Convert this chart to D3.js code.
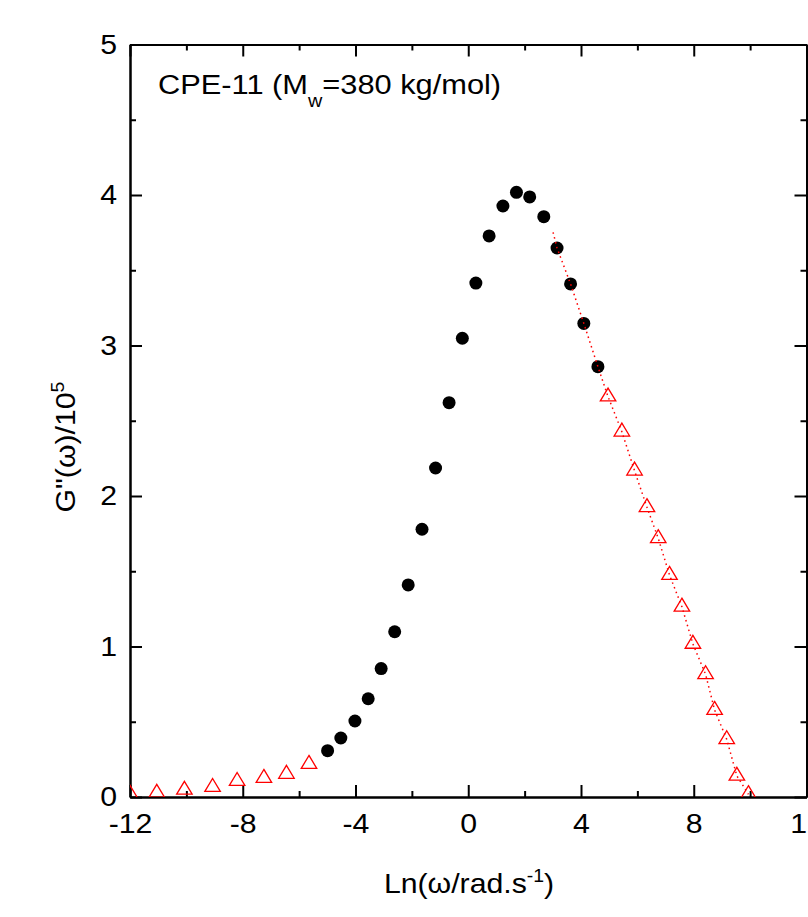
<!DOCTYPE html>
<html>
<head>
<meta charset="utf-8">
<script src="https://cdn.jsdelivr.net/npm/d3@7"></script>
<style>
  html, body { margin: 0; padding: 0; background: #fff; }
  svg { display: block; }
  text { font-family: "Liberation Sans", Arial, sans-serif; fill: #000; }
</style>
</head>
<body>
<svg id="chart" width="808" height="917"></svg>
<script>
// ---- data ----
const circleX = [-4.99,-4.52,-4.02,-3.55,-3.09,-2.61,-2.13,-1.64,-1.16,-0.68,-0.21,0.27,0.74,1.23,1.71,2.18,2.68,3.15,3.63,4.10,4.60];
const circleY = [0.308,0.392,0.505,0.653,0.853,1.098,1.409,1.779,2.186,2.620,3.048,3.415,3.728,3.927,4.018,3.987,3.856,3.648,3.409,3.147,2.859];

const triX = [-12.0,-11.05,-10.07,-9.07,-8.20,-7.25,-6.45,-5.65,4.96,5.45,5.90,6.34,6.74,7.14,7.58,7.97,8.42,8.74,9.17,9.53,9.94];
const triY = [0.02,0.027,0.047,0.066,0.106,0.126,0.153,0.219,2.660,2.427,2.168,1.925,1.719,1.475,1.264,1.017,0.815,0.578,0.383,0.140,0.018];

const lineX = [3.01,3.15,3.63,4.10,4.60,4.96,5.45,5.90,6.34,6.74,7.14,7.58,7.97,8.42,8.74,9.17,9.53,9.94];
const lineY = [3.752,3.648,3.409,3.147,2.859,2.660,2.427,2.168,1.925,1.719,1.475,1.264,1.017,0.815,0.578,0.383,0.140,0.018];

const xTicks = [-12,-8,-4,0,4,8,12];
const xMinor = [-10,-6,-2,2,6,10];
const yTicks = [0,1,2,3,4,5];
const yMinor = [0.5,1.5,2.5,3.5,4.5];

const titleText = "CPE-11 (M";
const titleSub = "w";
const titleRest = "=380 kg/mol)";

// ---- layout ----
const svg = d3.select("#chart");
const L = 130, R = 806.5, T = 44.5, B = 797;
const x = d3.scaleLinear().domain([-12, 12]).range([L, R]);
const y = d3.scaleLinear().domain([0, 5]).range([B, T]);
const FS = 28, SX = 1.08;
const fmt = d => String(d);   // plain hyphen-minus, as in the reference

svg.append("defs").append("clipPath").attr("id", "plotclip")
  .append("rect").attr("x", L).attr("y", T).attr("width", R - L).attr("height", B - T);

// axes
function styleAxis(g) {
  g.selectAll("path.domain").attr("stroke", "#000").attr("stroke-width", 2);
  g.selectAll(".tick line").attr("stroke", "#000").attr("stroke-width", 2);
  g.selectAll("text").attr("font-size", FS).attr("font-family", "Liberation Sans, Arial, sans-serif")
    .attr("fill", "#000");
}

const gxB = svg.append("g").attr("transform", `translate(0,${B})`)
  .call(d3.axisBottom(x).tickValues(xTicks).tickSize(-12).tickSizeOuter(0).tickPadding(16).tickFormat(fmt))
  .call(styleAxis);
gxB.selectAll("text").attr("transform", `scale(${SX},1)`);
svg.append("g").attr("transform", `translate(0,${B})`)
  .call(d3.axisBottom(x).tickValues(xMinor).tickSize(-6).tickSizeOuter(0).tickFormat(""))
  .call(styleAxis);

svg.append("g").attr("transform", `translate(0,${T})`)
  .call(d3.axisTop(x).tickValues(xTicks).tickSize(-12).tickSizeOuter(0).tickFormat(""))
  .call(styleAxis);
svg.append("g").attr("transform", `translate(0,${T})`)
  .call(d3.axisTop(x).tickValues(xMinor).tickSize(-6).tickSizeOuter(0).tickFormat(""))
  .call(styleAxis);

const gyL = svg.append("g").attr("transform", `translate(${L},0)`)
  .call(d3.axisLeft(y).tickValues(yTicks).tickSize(-12).tickSizeOuter(0).tickPadding(12).tickFormat(fmt))
  .call(styleAxis);
gyL.selectAll("text").attr("transform", `scale(${SX},1)`);
svg.append("g").attr("transform", `translate(${L},0)`)
  .call(d3.axisLeft(y).tickValues(yMinor).tickSize(-6).tickSizeOuter(0).tickFormat(""))
  .call(styleAxis);

svg.append("g").attr("transform", `translate(${R},0)`)
  .call(d3.axisRight(y).tickValues(yTicks).tickSize(-12).tickSizeOuter(0).tickFormat(""))
  .call(styleAxis);
svg.append("g").attr("transform", `translate(${R},0)`)
  .call(d3.axisRight(y).tickValues(yMinor).tickSize(-6).tickSizeOuter(0).tickFormat(""))
  .call(styleAxis);

// data layers
const plot = svg.append("g").attr("clip-path", "url(#plotclip)");

plot.selectAll("circle.blk").data(circleX.map((d, i) => [d, circleY[i]]))
  .enter().append("circle").attr("class", "blk")
  .attr("cx", d => x(d[0])).attr("cy", d => y(d[1])).attr("r", 6.5).attr("fill", "#000");

const line = d3.line().x(d => x(d[0])).y(d => y(d[1]));
plot.append("path").datum(lineX.map((d, i) => [d, lineY[i]]))
  .attr("d", line).attr("fill", "none").attr("stroke", "#ff0000")
  .attr("stroke-width", 1.5).attr("stroke-dasharray", "1.5,3.5");

const tri = d3.symbol().type(d3.symbolTriangle).size(100);
plot.selectAll("path.tri").data(triX.map((d, i) => [d, triY[i]]))
  .enter().append("path").attr("class", "tri")
  .attr("transform", d => `translate(${x(d[0])},${y(d[1])}) scale(1.02,0.98)`)
  .attr("d", tri).attr("fill", "none").attr("stroke", "#ff0000").attr("stroke-width", 1.3);

// title annotation
const tt = svg.append("text").attr("transform", `translate(158,94) scale(1.1,1)`)
  .attr("font-size", FS);
tt.append("tspan").text(titleText);
tt.append("tspan").attr("font-size", 18).attr("dy", 13).text(titleSub);
tt.append("tspan").attr("dy", -13).text(titleRest);

// x label
const xl = svg.append("text").attr("transform", `translate(469,893) scale(${SX},1)`)
  .attr("text-anchor", "middle").attr("font-size", FS);
xl.append("tspan").text("Ln(ω/rad.s");
xl.append("tspan").attr("font-size", 18).attr("dy", -11).text("-1");
xl.append("tspan").attr("dy", 11).text(")");

// y label
const yl = svg.append("text").attr("transform", `translate(75,447) rotate(-90) scale(${SX},1)`)
  .attr("text-anchor", "middle").attr("font-size", FS);
yl.append("tspan").text("G\"(ω)/10");
yl.append("tspan").attr("font-size", 18).attr("dy", -11).text("5");
</script>
</body>
</html>
